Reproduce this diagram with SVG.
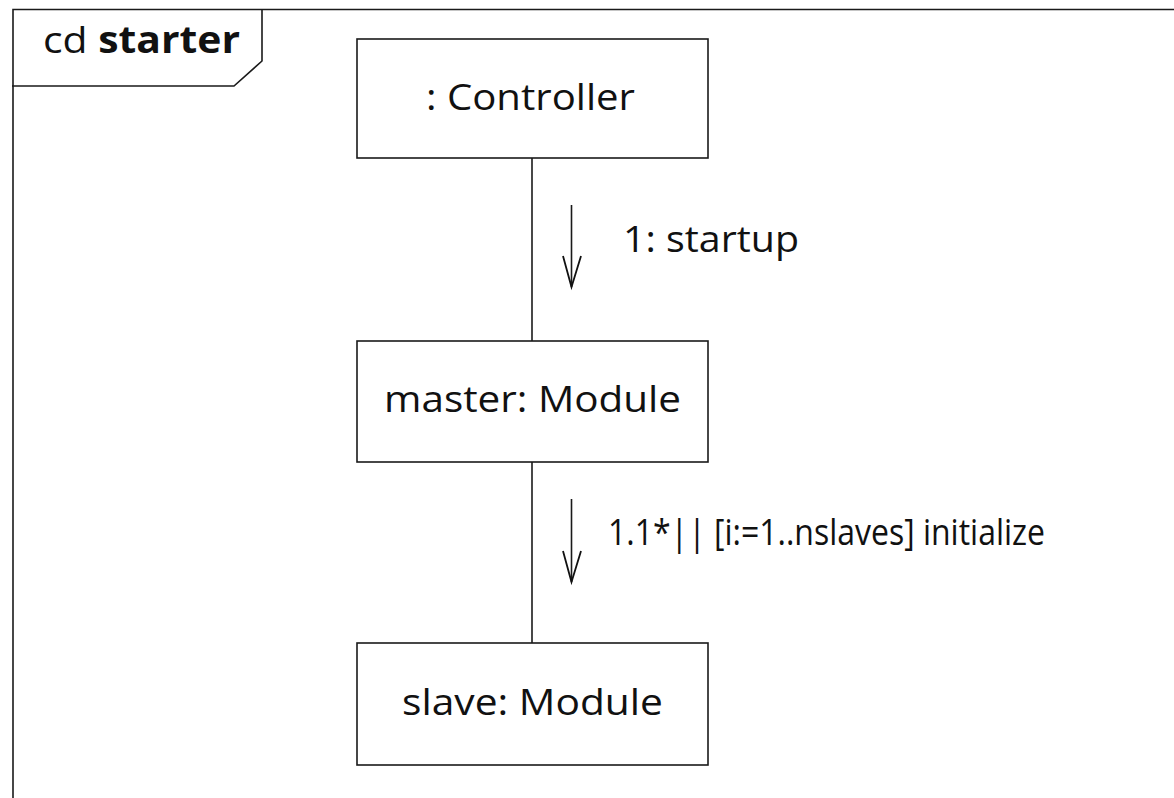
<svg xmlns="http://www.w3.org/2000/svg" width="1174" height="798" viewBox="0 0 1174 798">
  <defs>
    <style>
      .ln { fill: none; stroke: #1a1a1a; stroke-width: 1.6; }
      .box { fill: #ffffff; stroke: #1a1a1a; stroke-width: 1.6; }
      .lbl { font-family: "Open Sans", "Noto Sans", "Liberation Sans", sans-serif; font-size: 37px; fill: #111111; }
      .arrowhead { fill: none; stroke: #111111; stroke-width: 1.8; stroke-linejoin: miter; }
    </style>
  </defs>
  <rect width="1174" height="798" fill="#ffffff"/>

  <!-- diagram frame with name tag -->
  <g id="frame">
    <path class="ln" d="M13,798 V9.5 H1174"/>
    <path class="ln" d="M262,9 V61 L234,86 H12"/>
    <text class="lbl" x="43" y="53" font-size="33" textLength="197" lengthAdjust="spacingAndGlyphs">cd <tspan font-weight="bold">starter</tspan></text>
  </g>

  <!-- links and message arrows -->
  <g id="connectors">
    <line class="ln" x1="532" y1="158" x2="532" y2="341"/>
    <line class="ln" x1="532" y1="462" x2="532" y2="643"/>
    <line class="ln" x1="571.5" y1="205" x2="571.5" y2="287"/>
    <path class="arrowhead" d="M563,256 L571.5,287 L581,256"/>
    <line class="ln" x1="571.5" y1="499" x2="571.5" y2="582"/>
    <path class="arrowhead" d="M563,551 L571.5,582 L581,551"/>
    <text class="lbl" x="623" y="252" textLength="176" lengthAdjust="spacingAndGlyphs">1: startup</text>
    <text class="lbl" x="608" y="545" textLength="437" lengthAdjust="spacingAndGlyphs">1.1*|| [i:=1..nslaves] initialize</text>
  </g>

  <g id="controller">
    <rect class="box" x="357" y="39" width="351" height="119"/>
    <text class="lbl" x="426" y="110" textLength="209" lengthAdjust="spacingAndGlyphs">: Controller</text>
  </g>

  <g id="master">
    <rect class="box" x="357" y="341" width="351" height="121"/>
    <text class="lbl" x="384" y="412" textLength="297" lengthAdjust="spacingAndGlyphs">master: Module</text>
  </g>

  <g id="slave">
    <rect class="box" x="357" y="643" width="351" height="122"/>
    <text class="lbl" x="402" y="715" textLength="261" lengthAdjust="spacingAndGlyphs">slave: Module</text>
  </g>
</svg>
